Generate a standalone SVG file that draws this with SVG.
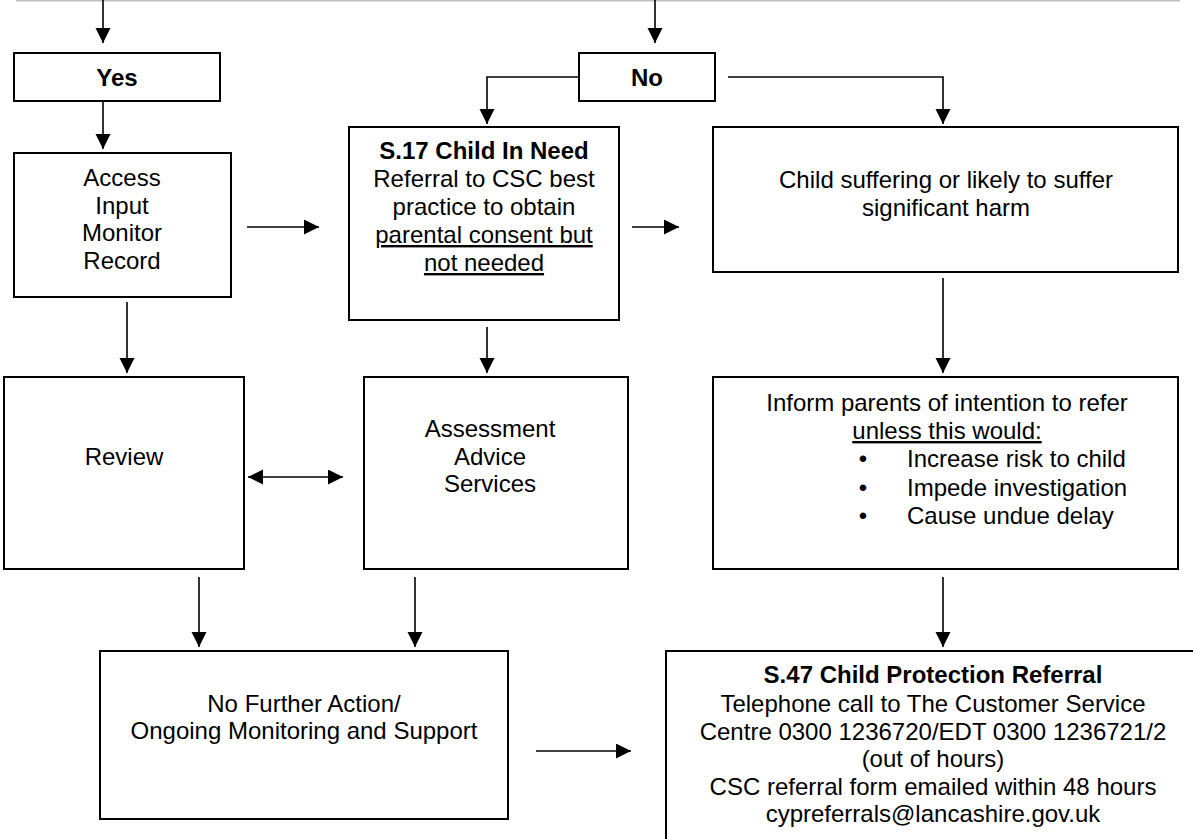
<svg xmlns="http://www.w3.org/2000/svg" width="1193" height="839" viewBox="0 0 1193 839">
<defs>
<style>
.box{fill:#fff;stroke:#000;stroke-width:2}
.t{font-family:"Liberation Sans",Arial,sans-serif;font-size:24px;fill:#000;text-anchor:middle}
.b{font-weight:bold}
.l{text-anchor:start}
.u{text-decoration:underline}
.c{fill:none;stroke:#000;stroke-width:1.6}
</style>
<marker id="ah" markerUnits="userSpaceOnUse" markerWidth="16" markerHeight="16" refX="15" refY="7.5" orient="auto-start-reverse" viewBox="0 0 16 16">
<path d="M0,0 L15,7.5 L0,15 z" fill="#000"/>
</marker>
</defs>
<rect width="1193" height="839" fill="#fff"/>
<line x1="16" y1="0.8" x2="1180" y2="0.8" stroke="#c0c0c0" stroke-width="1.5"/>

<g id="connectors">
<line class="c" x1="103" y1="0" x2="103" y2="43" marker-end="url(#ah)"/>
<line class="c" x1="655" y1="0" x2="655" y2="43" marker-end="url(#ah)"/>
<line class="c" x1="103" y1="101" x2="103" y2="149" marker-end="url(#ah)"/>
<polyline class="c" points="580,77 487,77 487,124" marker-end="url(#ah)"/>
<polyline class="c" points="728,77 943,77 943,124" marker-end="url(#ah)"/>
<line class="c" x1="247" y1="227" x2="319" y2="227" marker-end="url(#ah)"/>
<line class="c" x1="632" y1="227" x2="679" y2="227" marker-end="url(#ah)"/>
<line class="c" x1="127" y1="302" x2="127" y2="373" marker-end="url(#ah)"/>
<line class="c" x1="487" y1="327" x2="487" y2="373" marker-end="url(#ah)"/>
<line class="c" x1="943" y1="278" x2="943" y2="373" marker-end="url(#ah)"/>
<line class="c" x1="248" y1="477" x2="343" y2="477" marker-start="url(#ah)" marker-end="url(#ah)"/>
<line class="c" x1="199" y1="577" x2="199" y2="647" marker-end="url(#ah)"/>
<line class="c" x1="415" y1="577" x2="415" y2="647" marker-end="url(#ah)"/>
<line class="c" x1="943" y1="577" x2="943" y2="647" marker-end="url(#ah)"/>
<line class="c" x1="536" y1="751" x2="631" y2="751" marker-end="url(#ah)"/>
</g>

<g id="yes">
<rect class="box" x="14" y="53" width="206" height="48"/>
<text class="t b" x="117" y="86">Yes</text>
</g>

<g id="no">
<rect class="box" x="579" y="53" width="136" height="48"/>
<text class="t b" x="647" y="86">No</text>
</g>

<g id="access">
<rect class="box" x="14" y="153" width="217" height="144"/>
<text class="t" x="122" y="186">Access</text>
<text class="t" x="122" y="213.5">Input</text>
<text class="t" x="122" y="241">Monitor</text>
<text class="t" x="122" y="268.5">Record</text>
</g>

<g id="s17">
<rect class="box" x="349" y="127" width="270" height="193"/>
<text class="t b" x="484" y="159">S.17 Child In Need</text>
<text class="t" x="484" y="187">Referral to CSC best</text>
<text class="t" x="484" y="215">practice to obtain</text>
<text class="t u" x="484" y="243">parental consent but</text>
<text class="t u" x="484" y="271">not needed</text>
</g>

<g id="harm">
<rect class="box" x="713" y="127" width="465" height="145"/>
<text class="t" x="946" y="188">Child suffering or likely to suffer</text>
<text class="t" x="946" y="216">significant harm</text>
</g>

<g id="review">
<rect class="box" x="4" y="377" width="240" height="192"/>
<text class="t" x="124" y="465">Review</text>
</g>

<g id="assessment">
<rect class="box" x="364" y="377" width="264" height="192"/>
<text class="t" x="490" y="437">Assessment</text>
<text class="t" x="490" y="465">Advice</text>
<text class="t" x="490" y="492">Services</text>
</g>

<g id="inform">
<rect class="box" x="713" y="377" width="465" height="192"/>
<text class="t" x="947" y="411">Inform parents of intention to refer</text>
<text class="t u" x="947" y="439">unless this would:</text>
<text class="t" x="863" y="467">•</text>
<text class="t l" x="907" y="467">Increase risk to child</text>
<text class="t" x="863" y="496">•</text>
<text class="t l" x="907" y="496">Impede investigation</text>
<text class="t" x="863" y="524">•</text>
<text class="t l" x="907" y="524">Cause undue delay</text>
</g>

<g id="nfa">
<rect class="box" x="100" y="651" width="408" height="168"/>
<text class="t" x="304" y="712">No Further Action/</text>
<text class="t" x="304" y="739">Ongoing Monitoring and Support</text>
</g>

<g id="s47">
<rect class="box" x="666" y="651" width="540" height="210"/>
<text class="t b" x="933" y="683">S.47 Child Protection Referral</text>
<text class="t" x="933" y="712">Telephone call to The Customer Service</text>
<text class="t" x="933" y="740">Centre 0300 1236720/EDT 0300 1236721/2</text>
<text class="t" x="933" y="767">(out of hours)</text>
<text class="t" x="933" y="795">CSC referral form emailed within 48 hours</text>
<text class="t" x="933" y="822">cypreferrals@lancashire.gov.uk</text>
</g>
</svg>
